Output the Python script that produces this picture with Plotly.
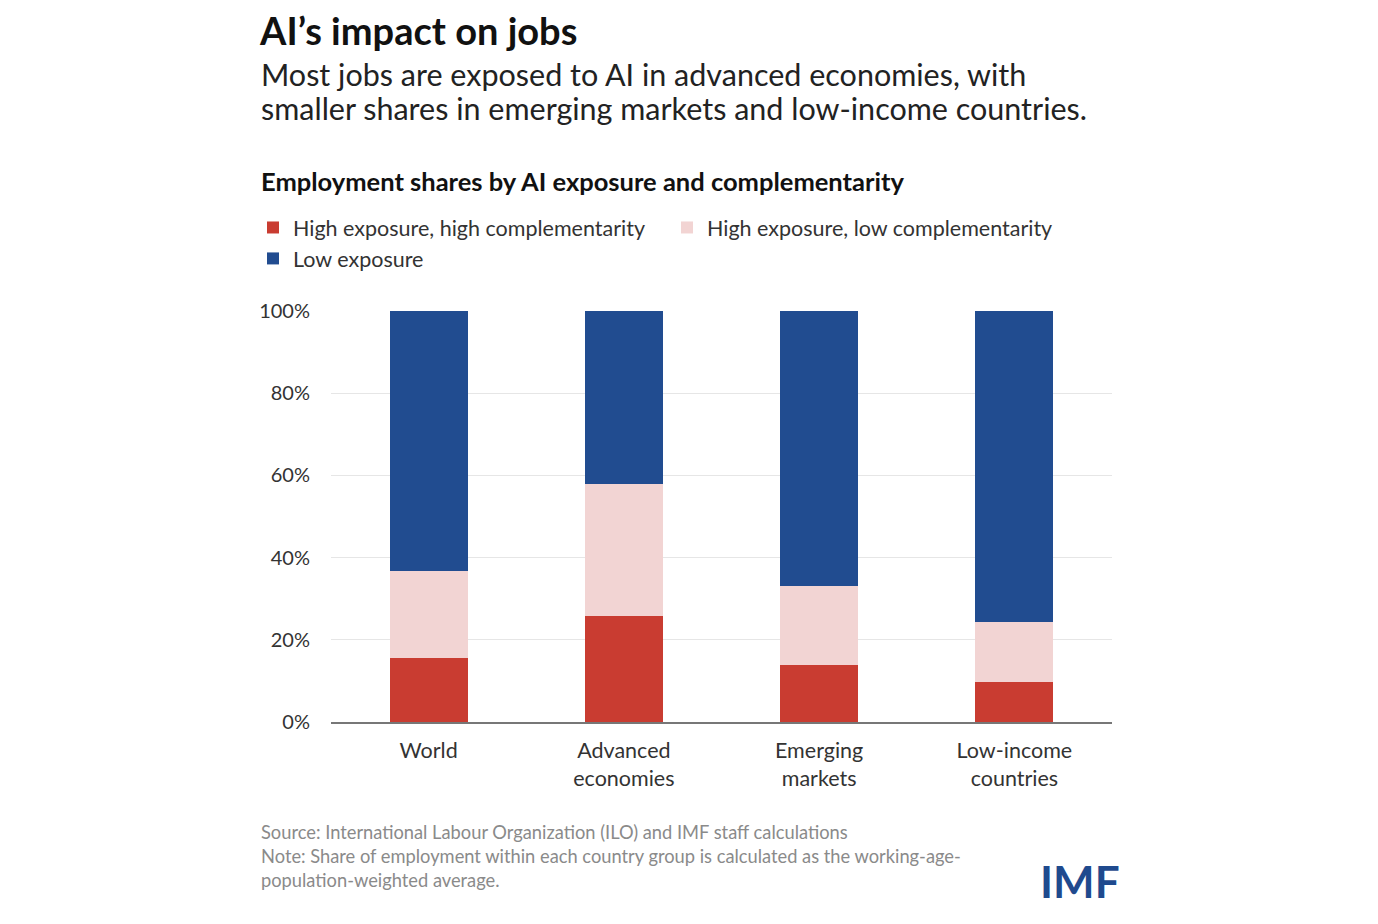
import plotly.graph_objects as go

# Country groups and employment shares (%)
groups = ["World", "Advanced<br>economies", "Emerging<br>markets", "Low-income<br>countries"]
high_exp_high_comp = [15.6, 25.8, 13.9, 9.7]
high_exp_low_comp = [21.1, 32.1, 19.3, 14.6]
low_exposure = [63.3, 42.1, 66.8, 75.7]
y_ticks = [0, 20, 40, 60, 80, 100]
y_tick_labels = ["0%", "20%", "40%", "60%", "80%", "100%"]

RED = "#C93C31"
PINK = "#F2D4D3"
BLUE = "#214C90"
FONT = "Lato"

# page body has an 8px margin, so shift the plot area back by 8px
L, T, W, H = 323, 303, 781, 411


def py(pixel_y):
    # reference pixel row -> paper y
    return (T + H - (pixel_y - 8)) / H


def px(pixel_x):
    return (pixel_x - 8 - L) / W


fig = go.Figure()
fig.add_trace(go.Bar(x=groups, y=high_exp_high_comp, name="High exposure, high complementarity",
                     marker=dict(color=RED, line=dict(width=0))))
fig.add_trace(go.Bar(x=groups, y=high_exp_low_comp, name="High exposure, low complementarity",
                     marker=dict(color=PINK, line=dict(width=0))))
fig.add_trace(go.Bar(x=groups, y=low_exposure, name="Low exposure",
                     marker=dict(color=BLUE, line=dict(width=0))))

fig.update_layout(
    barmode="stack",
    bargap=0.6,
    width=1378, height=924,
    margin=dict(l=L, r=1378 - L - W, t=T, b=924 - T - H),
    plot_bgcolor="white", paper_bgcolor="white",
    font=dict(family=FONT, color="#333333", size=21),
    title=dict(text="<b>AI’s impact on jobs</b>", x=252 / 1378, xanchor="left", xref="container",
               y=1 - 24 / 924, yanchor="middle", yref="container",
               font=dict(size=38, color="#111111", family=FONT)),
    legend=dict(orientation="h", x=px(253), xanchor="left", y=py(207), yanchor="top",
                entrywidth=369, entrywidthmode="pixels", traceorder="normal",
                font=dict(size=21.5, color="#333333"), itemwidth=30, bgcolor="rgba(0,0,0,0)"),
    xaxis=dict(showline=True, linecolor="#777777", linewidth=1.5, ticks="",
               tickfont=dict(size=21.5, color="#333333"), range=[-0.5, 3.5],
               ticklabelstandoff=8),
    yaxis=dict(range=[0, 100], tickvals=y_ticks, ticktext=y_tick_labels,
               showgrid=True, gridcolor="#E6E6E6", gridwidth=1, zeroline=False,
               tickfont=dict(size=20, color="#333333"), ticklabelstandoff=20),
)

subtitle_lines = ["Most jobs are exposed to AI in advanced economies, with",
                  "smaller shares in emerging markets and low-income countries."]
for text, y in zip(subtitle_lines, [74, 108]):
    fig.add_annotation(text=text, xref="paper", yref="paper", x=px(259), y=py(y),
                       xanchor="left", yanchor="middle", showarrow=False,
                       font=dict(size=30.5, color="#222222", family=FONT))

fig.add_annotation(text="<b>Employment shares by AI exposure and complementarity</b>",
                   xref="paper", yref="paper", x=px(259), y=py(181),
                   xanchor="left", yanchor="middle", showarrow=False,
                   font=dict(size=25.5, color="#111111", family=FONT))

note_lines = ["Source: International Labour Organization (ILO) and IMF staff calculations",
              "Note: Share of employment within each country group is calculated as the working-age-",
              "population-weighted average."]
for text, y in zip(note_lines, [832, 856, 880]):
    fig.add_annotation(text=text, xref="paper", yref="paper", x=px(259), y=py(y),
                       xanchor="left", yanchor="middle", showarrow=False,
                       font=dict(size=18.3, color="#8A8A8A", family=FONT))

fig.add_annotation(text="<b>IMF</b>", xref="paper", yref="paper", x=px(1122),
                   y=py(881), xanchor="right", yanchor="middle", showarrow=False,
                   font=dict(size=44, color="#1F4A8E", family=FONT))

fig.write_html("out.html")
